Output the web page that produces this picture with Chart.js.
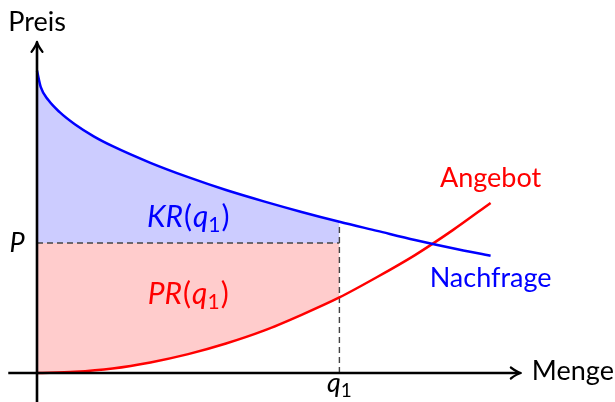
<!DOCTYPE html>
<html>
<head>
<meta charset="utf-8">
<script src="https://cdn.jsdelivr.net/npm/chart.js@4"></script>
<style>
  html, body { margin: 0; padding: 0; background: #fff; }
  #wrap { width: 615px; height: 402px; }
</style>
</head>
<body>
<div id="wrap"><canvas id="chart"></canvas></div>
<script>
// values (x = Menge, y = Preis)
const demandX = [0, 0.05, 0.15, 0.3, 0.5, 0.75, 1, 1.5, 2, 2.5, 3, 3.5, 4, 4.5, 5, 5.5, 6];
const demandY = [4, 3.78, 3.61, 3.45, 3.29, 3.13, 3.0, 2.78, 2.59, 2.42, 2.27, 2.13, 2.0, 1.88, 1.76, 1.65, 1.55];
const supplyX = [0, 0.5, 1, 1.5, 2, 2.5, 3, 3.5, 4, 4.5, 5, 5.5, 6];
const supplyY = [0, 0.016, 0.06, 0.14, 0.25, 0.39, 0.56, 0.77, 1.0, 1.27, 1.56, 1.89, 2.25];
const priceP = 1.72;
const quantityQ1 = 4;
const axisX = [-0.38, 6.4];
const axisY = [-0.38, 4.38];

const pts = (xs, ys) => xs.map((x, i) => ({ x, y: ys[i] }));
const upTo = (xs, ys, lim) => pts(xs, ys).filter(p => p.x <= lim);
const demandAtQ1 = demandY[demandX.indexOf(quantityQ1)];

const FONT = 'Lato, "Open Sans", sans-serif';

// draws a run of text pieces centered (or left aligned) at x
function drawPieces(ctx, pieces, x, y, color, align) {
    let total = 0;
    pieces.forEach(p => {
        ctx.font = p.font;
        p.w = ctx.measureText(p.t).width + (p.gap || 0);
        total += p.w;
    });
    let cx = align === 'left' ? x : x - total / 2;
    ctx.fillStyle = color;
    ctx.textAlign = 'left';
    ctx.textBaseline = 'alphabetic';
    pieces.forEach(p => {
        ctx.font = p.font;
        ctx.fillText(p.t, cx, y + (p.dy || 0));
        cx += p.w;
    });
}

function mathLabel(letters, size) {
    return [
        { t: letters, font: `italic ${size}px ${FONT}`, gap: 1 },
        { t: '(', font: `${size}px ${FONT}`, gap: 1 },
        { t: 'q', font: `italic ${size}px ${FONT}` },
        { t: '1', font: `${Math.round(size * 0.7)}px ${FONT}`, dy: 5, gap: 1 },
        { t: ')', font: `${size}px ${FONT}` }
    ];
}

const axesPlugin = {
    id: 'axes',
    afterDatasetsDraw(chart) {
        const { ctx, scales: { x, y } } = chart;
        const x0 = x.getPixelForValue(0), y0 = y.getPixelForValue(0);
        const xEnd = x.getPixelForValue(axisX[1]), yEnd = y.getPixelForValue(axisY[1]);
        ctx.save();
        ctx.strokeStyle = '#000';
        ctx.lineWidth = 2.6;
        ctx.beginPath();
        ctx.moveTo(x.getPixelForValue(axisX[0]), y0);
        ctx.lineTo(xEnd - 2, y0);
        ctx.moveTo(x0, y.getPixelForValue(axisY[0]) + 2);
        ctx.lineTo(x0, yEnd + 2);
        ctx.stroke();
        // arrow heads
        ctx.lineWidth = 2.2;
        ctx.lineJoin = 'round';
        ctx.lineCap = 'round';
        ctx.beginPath();
        ctx.moveTo(xEnd - 10, y0 - 5.5);
        ctx.quadraticCurveTo(xEnd - 4, y0 - 1, xEnd, y0);
        ctx.quadraticCurveTo(xEnd - 4, y0 + 1, xEnd - 10, y0 + 5.5);
        ctx.moveTo(x0 - 5.5, yEnd + 10);
        ctx.quadraticCurveTo(x0 - 1, yEnd + 4, x0, yEnd);
        ctx.quadraticCurveTo(x0 + 1, yEnd + 4, x0 + 5.5, yEnd + 10);
        ctx.stroke();
        ctx.restore();
    },
    afterDraw(chart) {
        const { ctx, scales: { x, y } } = chart;
        const px = v => x.getPixelForValue(v), py = v => y.getPixelForValue(v);
        const size = 27;
        ctx.save();
        drawPieces(ctx, [{ t: 'Preis', font: `${size}px ${FONT}` }], px(0), py(axisY[1]) - 11, '#000');
        drawPieces(ctx, [{ t: 'Menge', font: `${size}px ${FONT}` }], px(axisX[1]) + 11, py(0) + 7, '#000', 'left');
        drawPieces(ctx, [{ t: 'P', font: `italic ${size}px ${FONT}` }], px(0) - 20, py(priceP) + 9, '#000');
        drawPieces(ctx, [
            { t: 'q', font: `italic ${size}px ${FONT}` },
            { t: '1', font: `${Math.round(size * 0.7)}px ${FONT}`, dy: 5 }
        ], px(quantityQ1), py(0) + 19, '#000');
        const mid = px(quantityQ1 / 2);
        drawPieces(ctx, mathLabel('KR', 30), mid, py(priceP) - 16, '#0000ff');
        drawPieces(ctx, mathLabel('PR', 30), mid, py(priceP) + 61, '#ff0000');
        const last = demandX.length - 1, lastS = supplyX.length - 1;
        drawPieces(ctx, [{ t: 'Angebot', font: `${size}px ${FONT}` }], px(supplyX[lastS]), py(supplyY[lastS]) - 16, '#ff0000');
        drawPieces(ctx, [{ t: 'Nachfrage', font: `${size}px ${FONT}` }], px(demandX[last]), py(demandY[last]) + 31, '#0000ff');
        ctx.restore();
    }
};

const dashStyle = { borderColor: '#444444', borderWidth: 1.4, borderDash: [6, 4], pointRadius: 0, showLine: true, fill: false };

new Chart(document.getElementById('chart'), {
    type: 'scatter',
    data: {
        datasets: [
            {
                data: upTo(demandX, demandY, quantityQ1),
                showLine: true, pointRadius: 0, borderWidth: 0, borderColor: 'rgba(0,0,0,0)',
                backgroundColor: '#ccccff', fill: { value: priceP },
                cubicInterpolationMode: 'monotone', order: 10
            },
            {
                data: upTo(supplyX, supplyY, quantityQ1),
                showLine: true, pointRadius: 0, borderWidth: 0, borderColor: 'rgba(0,0,0,0)',
                backgroundColor: '#ffcccc', fill: { value: priceP },
                cubicInterpolationMode: 'monotone', order: 10
            },
            { ...dashStyle, data: [{ x: 0, y: priceP }, { x: quantityQ1, y: priceP }], order: 5 },
            { ...dashStyle, data: [{ x: quantityQ1, y: 0 }, { x: quantityQ1, y: demandAtQ1 }], order: 5 },
            {
                data: pts(demandX, demandY),
                showLine: true, pointRadius: 0, borderWidth: 2.5, borderColor: '#0000ff',
                fill: false, cubicInterpolationMode: 'monotone', order: 1
            },
            {
                data: pts(supplyX, supplyY),
                showLine: true, pointRadius: 0, borderWidth: 2.5, borderColor: '#ff0000',
                fill: false, cubicInterpolationMode: 'monotone', order: 1
            }
        ]
    },
    options: {
        responsive: true,
        maintainAspectRatio: false,
        animation: false,
        layout: { padding: 0 },
        plugins: { legend: { display: false }, tooltip: { enabled: false } },
        scales: {
            x: { type: 'linear', display: false, min: -0.4894, max: 7.6455 },
            y: { type: 'linear', display: false, min: -0.3836, max: 4.9339 }
        }
    },
    plugins: [axesPlugin]
});
</script>
</body>
</html>
